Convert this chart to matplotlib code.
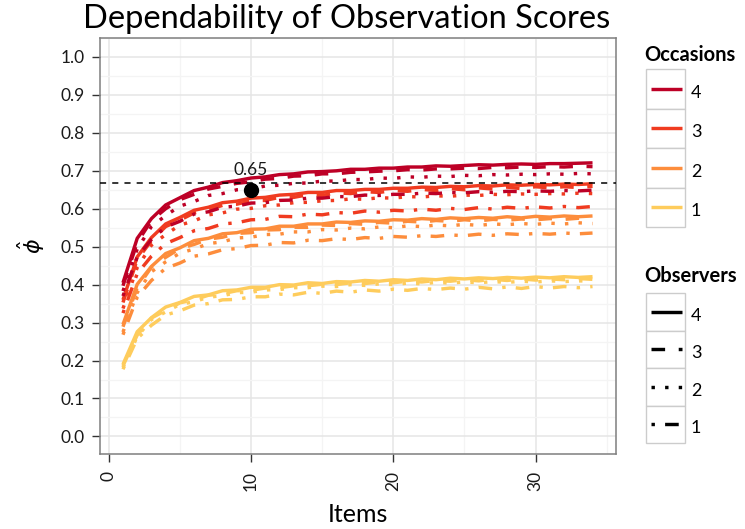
import matplotlib
matplotlib.use("Agg")
import matplotlib.pyplot as plt
from matplotlib.patches import Rectangle
from matplotlib.lines import Line2D
from matplotlib.ticker import MultipleLocator

plt.rcParams['font.family'] = ['Lato', 'DejaVu Sans']
plt.rcParams['mathtext.fontset'] = 'dejavusans'

items = list(range(1, 35))

occ4_obs4 = [.405,.522,.574,.610,.629,.648,.657,.669,.674,.681,.684,.690,.692,.697,.698,.700,.704,.704,.707,.707,.710,.710,.713,.712,.714,.716,.715,.717,.718,.717,.719,.719,.720,.721]
occ4_obs3 = [.397,.511,.569,.600,.624,.638,.652,.659,.667,.671,.678,.680,.686,.687,.692,.692,.696,.697,.699,.700,.703,.702,.705,.705,.707,.706,.709,.708,.710,.709,.711,.710,.712,.711]
occ4_obs2 = [.383,.494,.553,.582,.607,.619,.635,.640,.650,.652,.660,.662,.667,.668,.673,.673,.677,.677,.681,.680,.684,.683,.686,.685,.688,.687,.690,.689,.691,.690,.692,.691,.693,.692]
occ4_obs1 = [.370,.473,.519,.552,.567,.586,.592,.604,.607,.615,.616,.622,.623,.628,.628,.632,.632,.636,.635,.638,.638,.641,.640,.643,.642,.645,.643,.646,.645,.647,.646,.648,.647,.649]

occ3_obs4 = [.360,.473,.524,.560,.577,.596,.604,.616,.620,.628,.630,.636,.638,.643,.643,.648,.648,.651,.651,.654,.654,.657,.656,.659,.658,.661,.660,.663,.662,.664,.663,.665,.664,.666]
occ3_obs3 = [.353,.466,.516,.553,.570,.589,.597,.609,.612,.621,.622,.630,.630,.637,.635,.642,.640,.645,.643,.648,.646,.651,.648,.653,.650,.655,.652,.657,.653,.658,.655,.658,.656,.659]
occ3_obs2 = [.337,.445,.504,.532,.557,.568,.584,.589,.599,.601,.608,.610,.616,.617,.621,.622,.626,.625,.629,.628,.632,.631,.634,.633,.636,.635,.638,.637,.639,.638,.640,.639,.641,.640]
occ3_obs1 = [.325,.429,.475,.508,.524,.542,.548,.560,.563,.571,.572,.580,.579,.586,.584,.590,.588,.594,.591,.596,.594,.599,.596,.601,.598,.603,.599,.604,.601,.605,.602,.606,.603,.606]

occ2_obs4 = [.295,.401,.448,.482,.497,.516,.522,.534,.537,.546,.547,.554,.554,.560,.560,.565,.564,.568,.567,.571,.570,.574,.572,.576,.574,.577,.575,.579,.576,.580,.578,.581,.579,.581]
occ2_obs3 = [.289,.392,.446,.472,.495,.506,.520,.525,.535,.537,.544,.545,.551,.551,.557,.556,.561,.559,.564,.562,.567,.565,.569,.567,.571,.568,.572,.570,.573,.571,.574,.572,.575,.573]
occ2_obs2 = [.275,.379,.434,.460,.483,.494,.508,.513,.523,.525,.532,.533,.539,.539,.545,.544,.549,.547,.552,.550,.555,.553,.557,.555,.559,.556,.560,.558,.561,.559,.562,.560,.563,.561]
occ2_obs1 = [.268,.367,.411,.443,.457,.475,.481,.492,.495,.503,.504,.511,.510,.517,.516,.521,.519,.524,.522,.527,.525,.529,.527,.531,.529,.533,.530,.534,.532,.535,.533,.536,.534,.536]

occ1_obs4 = [.190,.276,.313,.341,.353,.369,.373,.384,.386,.393,.393,.400,.399,.405,.403,.408,.407,.411,.409,.413,.411,.415,.413,.417,.415,.418,.416,.419,.417,.420,.418,.421,.419,.421]
occ1_obs3 = [.186,.267,.312,.332,.352,.360,.372,.376,.384,.385,.391,.392,.397,.397,.401,.400,.405,.403,.407,.405,.409,.407,.411,.409,.413,.410,.414,.411,.415,.412,.415,.413,.416,.414]
occ1_obs2 = [.182,.263,.308,.328,.348,.355,.367,.371,.379,.380,.386,.387,.392,.392,.396,.395,.400,.398,.402,.400,.404,.402,.406,.404,.407,.405,.408,.406,.409,.407,.410,.408,.410,.409]
occ1_obs1 = [.177,.258,.293,.320,.331,.346,.350,.360,.361,.368,.368,.375,.373,.380,.377,.383,.380,.386,.383,.388,.385,.390,.387,.391,.388,.393,.389,.394,.390,.395,.391,.395,.392,.395]

occasions = ['4', '3', '2', '1']
observers = ['4', '3', '2', '1']
occ_colors = {'4': '#BD0026', '3': '#F03B20', '2': '#FD8D3C', '1': '#FECC5C'}
obs_styles = {'4': '-', '3': (0, (4, 4)), '2': (0, (1, 3)), '1': (0, (1, 3, 4, 3))}

series = {
    ('4', '4'): occ4_obs4, ('4', '3'): occ4_obs3, ('4', '2'): occ4_obs2, ('4', '1'): occ4_obs1,
    ('3', '4'): occ3_obs4, ('3', '3'): occ3_obs3, ('3', '2'): occ3_obs2, ('3', '1'): occ3_obs1,
    ('2', '4'): occ2_obs4, ('2', '3'): occ2_obs3, ('2', '2'): occ2_obs2, ('2', '1'): occ2_obs1,
    ('1', '4'): occ1_obs4, ('1', '3'): occ1_obs3, ('1', '2'): occ1_obs2, ('1', '1'): occ1_obs1,
}

target_value = 0.667
point_items = 10
point_value = 0.65
point_label = '0.65'

W, H = 745, 529
fig = plt.figure(figsize=(W / 100, H / 100), dpi=100)
fig.patch.set_facecolor('white')

left, right, top, bottom = 99.5, 616, 38, 453.5
ax = fig.add_axes([left / W, (H - bottom) / H, (right - left) / W, (bottom - top) / H])
ax.set_facecolor('white')

LW = 2.45
for occ in ['1', '2', '3', '4']:
    for obs in observers:
        ax.plot(items, series[(occ, obs)], color=occ_colors[occ], linestyle=obs_styles[obs],
                linewidth=LW, solid_capstyle='butt', dash_capstyle='butt', zorder=3)

ax.axhline(target_value, color='black', linestyle=(0, (4, 4)), linewidth=1.1, zorder=4)
ax.plot([point_items], [point_value], 'o', color='black', markersize=10, zorder=5)
ax.text(point_items, point_value + 0.052, point_label, ha='center', va='center', fontsize=12.5, color='#1a1a1a', zorder=5)

ax.set_xlim(-0.65, 35.65)
ax.set_ylim(-0.045, 1.05)
ax.xaxis.set_major_locator(MultipleLocator(10))
ax.xaxis.set_minor_locator(MultipleLocator(5))
ax.yaxis.set_minor_locator(MultipleLocator(0.05))
ax.set_yticks([i / 10 for i in range(11)])
ax.set_yticklabels([f'{i/10:.1f}' for i in range(11)])
ax.grid(which='major', color='#E5E5E5', linewidth=1.1, zorder=0)
ax.grid(which='minor', color='#F4F4F4', linewidth=0.9, zorder=0)
ax.set_axisbelow(True)
for s in ax.spines.values():
    s.set_color('#7F7F7F')
    s.set_linewidth(1.1)
ax.tick_params(which='major', length=5.5, width=1.0, color='#333333', labelsize=12.5, labelcolor='#1a1a1a', pad=5)
ax.tick_params(which='minor', length=0)
ax.tick_params(axis='x', labelrotation=90, pad=7)
ax.set_xlabel('Items', fontsize=18, labelpad=9)
ax.set_ylabel(r'$\hat{\phi}$', fontsize=16, labelpad=10)

fig.text(347 / W, 1 - 19 / H, 'Dependability of Observation Scores', ha='center', va='center', fontsize=23.5)

# legends
lax = fig.add_axes([0, 0, 1, 1])
lax.set_xlim(0, W)
lax.set_ylim(H, 0)
lax.axis('off')

def draw_legend(title, title_y, box_top, box_h, labels, colors, styles):
    lax.text(644, title_y, title, fontsize=14.5, fontweight='bold', ha='left', va='center')
    for i, lab in enumerate(labels):
        y0 = box_top + i * box_h
        lax.add_patch(Rectangle((645.5, y0), 39.5, box_h, facecolor='white', edgecolor='#CCCCCC', linewidth=1.0))
        yc = y0 + box_h / 2
        lax.add_line(Line2D([651, 681.5], [yc, yc], color=colors[i], linestyle=styles[i], linewidth=LW,
                            solid_capstyle='butt', dash_capstyle='butt'))
        lax.text(691, yc + 4, lab, fontsize=13, ha='left', va='center')

draw_legend('Occasions', 55, 69, 39.5, occasions, [occ_colors[o] for o in occasions], ['-'] * 4)
draw_legend('Observers', 276, 293, 37.5, observers, ['black'] * 4, [obs_styles[o] for o in observers])

fig.savefig('out.png', dpi=100)
